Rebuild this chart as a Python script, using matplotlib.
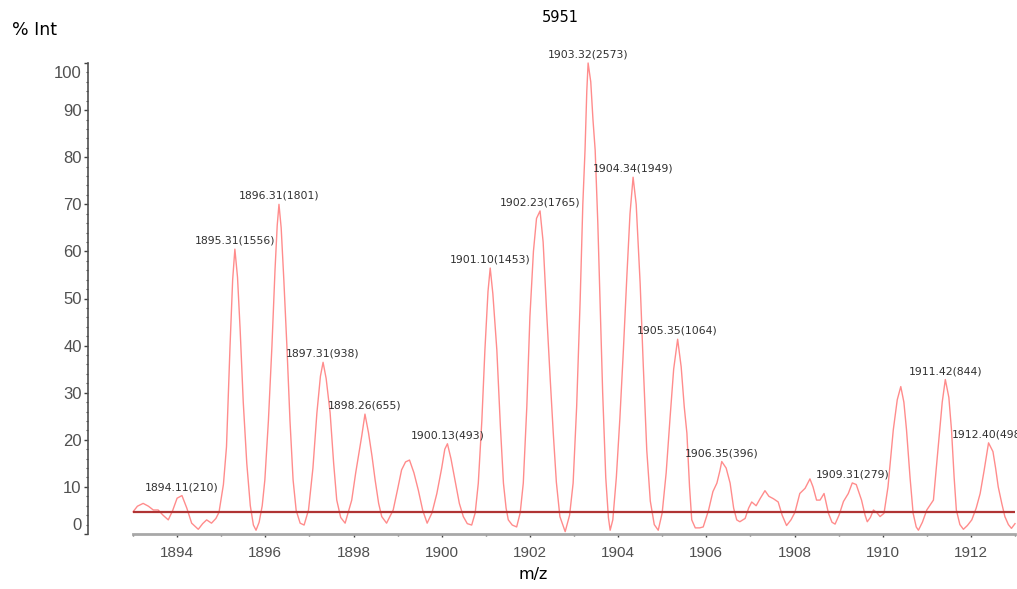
import matplotlib
matplotlib.use("Agg")
import matplotlib.pyplot as plt
from matplotlib.ticker import MultipleLocator
from matplotlib.transforms import ScaledTranslation

TITLE = "5951"
BASE_COUNTS = 2573      # counts of the base peak (100 %)
THRESHOLD = 4.6         # peak-detection threshold, % Int

# labelled centroids
peak_mz = [1894.11, 1895.31, 1896.31, 1897.31, 1898.26, 1900.13, 1901.10,
           1902.23, 1903.32, 1904.34, 1905.35, 1906.35, 1909.31, 1911.42,
           1912.40]
peak_counts = [210, 1556, 1801, 938, 655, 493, 1453,
               1765, 2573, 1949, 1064, 396, 279, 844,
               498]

# profile trace between the labelled apexes (m/z, % Int)
trace_mz = [
    1893.00, 1893.10, 1893.23, 1893.35, 1893.46, 1893.57, 1893.68, 1893.80,
    1893.90, 1894.00, 1894.22, 1894.33, 1894.48, 1894.58, 1894.67, 1894.78,
    1894.88, 1894.95, 1895.05, 1895.12, 1895.20, 1895.26, 1895.37, 1895.43,
    1895.50, 1895.58, 1895.66, 1895.73, 1895.79, 1895.86, 1895.93, 1895.99,
    1896.07, 1896.15, 1896.22, 1896.27, 1896.36, 1896.42, 1896.49, 1896.56,
    1896.63, 1896.70, 1896.79, 1896.88, 1896.98, 1897.08, 1897.17, 1897.25,
    1897.38, 1897.47, 1897.55, 1897.62, 1897.71, 1897.81, 1897.96, 1898.05,
    1898.12, 1898.19, 1898.34, 1898.42, 1898.49, 1898.57, 1898.64, 1898.75,
    1898.90, 1899.00, 1899.09, 1899.18, 1899.27, 1899.37, 1899.47, 1899.57,
    1899.67, 1899.78, 1899.89, 1900.00, 1900.07, 1900.21, 1900.30, 1900.40,
    1900.49, 1900.58, 1900.68, 1900.76, 1900.83, 1900.91, 1900.98, 1901.05,
    1901.16, 1901.25, 1901.33, 1901.40, 1901.46, 1901.51, 1901.60, 1901.70,
    1901.78, 1901.85, 1901.93, 1902.00, 1902.08, 1902.15, 1902.30, 1902.38,
    1902.46, 1902.53, 1902.60, 1902.68, 1902.80, 1902.90, 1902.98, 1903.06,
    1903.14, 1903.20, 1903.25, 1903.29, 1903.38, 1903.43, 1903.48, 1903.54,
    1903.59, 1903.65, 1903.72, 1903.78, 1903.82, 1903.88, 1903.96, 1904.04,
    1904.12, 1904.20, 1904.27, 1904.41, 1904.50, 1904.57, 1904.65, 1904.73,
    1904.82, 1904.91, 1905.00, 1905.09, 1905.18, 1905.26, 1905.43, 1905.50,
    1905.56, 1905.62, 1905.67, 1905.75, 1905.85, 1905.93, 1906.05, 1906.15,
    1906.24, 1906.31, 1906.45, 1906.54, 1906.62, 1906.69, 1906.76, 1906.88,
    1906.96, 1907.03, 1907.13, 1907.22, 1907.33, 1907.42, 1907.52, 1907.63,
    1907.72, 1907.82, 1907.92, 1908.01, 1908.12, 1908.24, 1908.35, 1908.42,
    1908.50, 1908.58, 1908.67, 1908.77, 1908.85, 1908.92, 1909.01, 1909.11,
    1909.22, 1909.40, 1909.52, 1909.60, 1909.65, 1909.72, 1909.79, 1909.87,
    1909.94, 1910.03, 1910.12, 1910.24, 1910.33, 1910.41, 1910.48, 1910.54,
    1910.62, 1910.69, 1910.76, 1910.81, 1910.90, 1911.00, 1911.15, 1911.26,
    1911.35, 1911.50, 1911.56, 1911.62, 1911.67, 1911.75, 1911.83, 1911.92,
    1912.02, 1912.12, 1912.21, 1912.30, 1912.50, 1912.56, 1912.62, 1912.70,
    1912.77, 1912.85, 1912.92, 1913.00,
]
trace_pct = [
    4.7, 5.9, 6.5, 5.9, 5.1, 5.1, 4.0, 3.0,
    5.0, 7.6, 5.5, 2.3, 1.0, 2.2, 3.0, 2.3,
    3.3, 4.6, 10.5, 18.5, 39.8, 54.0, 54.5, 43.3,
    28.0, 15.0, 6.0, 1.9, 0.8, 2.5, 6.0, 11.5,
    24.0, 39.8, 56.0, 65.5, 65.0, 54.0, 39.8, 24.0,
    11.5, 5.0, 2.3, 1.9, 5.1, 14.0, 25.7, 33.5,
    33.0, 25.7, 15.0, 7.2, 3.5, 2.3, 7.2, 13.0,
    17.0, 21.0, 21.5, 16.5, 11.5, 6.5, 3.7, 2.3,
    5.1, 9.5, 13.6, 15.3, 15.7, 13.0, 9.3, 5.0,
    2.3, 4.5, 8.6, 14.0, 18.0, 16.0, 11.5, 6.5,
    3.7, 2.2, 1.9, 4.5, 10.8, 24.0, 39.1, 51.5,
    51.0, 39.1, 23.0, 10.8, 5.5, 3.0, 1.9, 1.5,
    4.5, 10.8, 27.0, 46.1, 60.0, 67.0, 62.0, 47.0,
    33.0, 21.4, 11.0, 3.7, 0.5, 4.0, 10.8, 27.0,
    49.7, 70.0, 81.5, 94.0, 96.0, 88.0, 81.5, 66.0,
    49.7, 30.0, 12.0, 3.5, 0.8, 3.0, 12.0, 24.5,
    39.1, 55.0, 68.0, 70.0, 53.2, 36.0, 17.8, 7.0,
    2.0, 0.8, 4.5, 13.0, 24.9, 35.0, 35.5, 27.0,
    21.4, 10.0, 3.0, 1.3, 1.3, 1.5, 5.0, 9.0,
    10.8, 13.5, 14.0, 10.8, 5.5, 3.0, 2.6, 3.3,
    5.5, 6.8, 6.0, 7.5, 9.2, 8.0, 7.5, 6.8,
    4.0, 1.8, 3.0, 4.6, 8.6, 9.7, 11.7, 10.0,
    7.2, 7.2, 8.6, 4.4, 2.5, 2.1, 4.0, 6.9,
    8.6, 10.5, 7.2, 4.0, 2.6, 3.5, 5.1, 4.5,
    3.7, 4.4, 10.0, 22.1, 28.5, 31.3, 28.0, 22.1,
    12.0, 4.4, 1.5, 0.8, 2.5, 5.1, 7.2, 18.5,
    28.0, 29.0, 22.1, 12.0, 5.1, 2.0, 1.0, 1.8,
    3.0, 5.5, 8.6, 13.5, 17.5, 14.0, 10.0, 6.5,
    3.7, 2.0, 1.2, 2.2,
]

peak_pct = [c / BASE_COUNTS * 100 for c in peak_counts]

# merge the apexes back into the trace
profile = sorted(list(zip(trace_mz, trace_pct)) + list(zip(peak_mz, peak_pct)))
mz = [p[0] for p in profile]
pct = [p[1] for p in profile]

W, H = 1017, 589
fig = plt.figure(figsize=(W / 100, H / 100), dpi=100)
ax = fig.add_axes([133 / W, 55 / H, 882 / W, 471 / H])

ax.plot(mz, pct, color="#ff8c8c", lw=1.0, clip_on=False)
ax.axhline(THRESHOLD, color="#b03434", lw=1.6)

ax.set_xlim(1893, 1913)
ax.set_ylim(0, 100)

for side in ("top", "right"):
    ax.spines[side].set_visible(False)
ax.spines["left"].set_position(("outward", 32.4))
ax.spines["left"].set_color("#505050")
ax.spines["left"].set_linewidth(1.2)
ax.spines["bottom"].set_color("#a8a8a8")
ax.spines["bottom"].set_linewidth(2.0)

ax.xaxis.set_major_locator(MultipleLocator(2))
ax.xaxis.set_minor_locator(MultipleLocator(1))
ax.set_yticks(range(0, 101, 10))
ax.yaxis.set_minor_locator(MultipleLocator(2))

ax.tick_params(axis="x", which="major", length=2.5, width=1, color="#404040",
               pad=6, labelsize=11, labelcolor="#505050",
               labelfontfamily="Liberation Sans")
ax.tick_params(axis="x", which="minor", length=1.5, width=1, color="#606060")
ax.tick_params(axis="y", which="major", length=3, width=1, color="#404040",
               pad=1.5, labelsize=12, labelcolor="#505050",
               labelfontfamily="Liberation Sans")
ax.tick_params(axis="y", which="minor", length=1.5, width=0.8, color="#505050")

# end labels sit inside the axis extent
yticks = ax.yaxis.get_major_ticks()
yticks[0].label1.set_transform(yticks[0].label1.get_transform()
                               + ScaledTranslation(0, 0.10, fig.dpi_scale_trans))
yticks[-1].label1.set_transform(yticks[-1].label1.get_transform()
                                + ScaledTranslation(0, -0.09, fig.dpi_scale_trans))

for m, p, c in zip(peak_mz, peak_pct, peak_counts):
    ax.annotate(f"{m:.2f}({c})", xy=(m, p), xytext=(0, 2.5),
                textcoords="offset points", ha="center", va="bottom",
                fontsize=7.8, color="#303030", annotation_clip=False)

fig.text(560 / W, 1 - 18 / H, TITLE, ha="center", va="center", fontsize=10.5)
fig.text(12 / W, 1 - 30 / H, "% Int", ha="left", va="center", fontsize=12.5)
fig.text(533 / W, 1 - 575 / H, "m/z", ha="center", va="center", fontsize=11.5)

fig.savefig("out.png", dpi=100)
